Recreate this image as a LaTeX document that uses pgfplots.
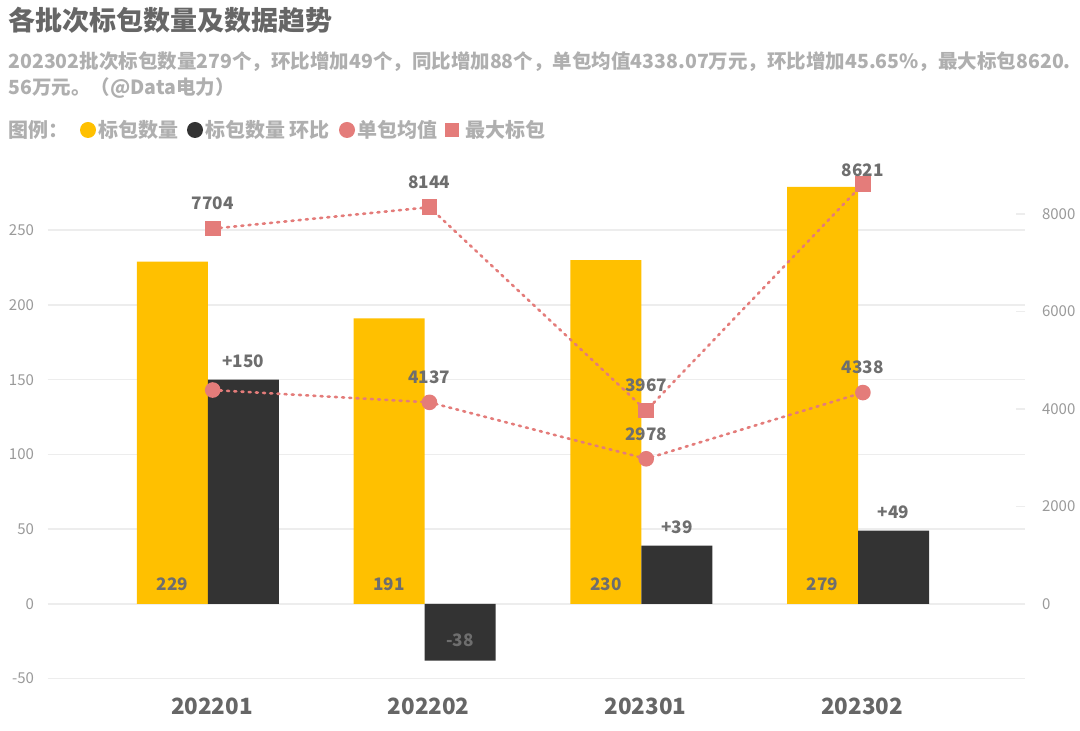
\documentclass[border=0pt]{standalone}
\usepackage{fontspec}
\setmainfont{Noto Sans CJK SC}
\usepackage{pgfplots}
\pgfplotsset{compat=1.18}
\definecolor{ybarc}{HTML}{FFC000}
\definecolor{dbarc}{HTML}{333333}
\definecolor{sal}{HTML}{E47C7A}
\definecolor{ttl}{HTML}{666666}
\definecolor{subc}{HTML}{AFAFAF}
\definecolor{lab}{HTML}{6E6E6E}
\definecolor{tickc}{HTML}{9A9A9A}
\definecolor{grd}{HTML}{EDEDED}
\begin{document}
\begin{tikzpicture}[x=0.5pt,y=0.5pt]
\path[use as bounding box, fill=white] (0,0) rectangle (1080,731);
\node[anchor=west, text=ttl, font=\bfseries\fontsize{13.5}{14}\selectfont, inner sep=0] at (8,711) {各批次标包数量及数据趋势};
\node[anchor=west, text=subc, font=\bfseries\fontsize{9.75}{10}\selectfont, inner sep=0] at (8,669) {202302批次标包数量279个，环比增加49个，同比增加88个，单包均值4338.07万元，环比增加45.65\%，最大标包8620.};
\node[anchor=west, text=subc, font=\bfseries\fontsize{9.75}{10}\selectfont, inner sep=0] at (8,643) {56万元。（@Data电力）};
\begin{scope}[every node/.style={anchor=west, text=subc, font=\bfseries\fontsize{10}{10}\selectfont, inner sep=0}]
\node at (8,601) {图例：};
\fill[ybarc] (88,601) circle (8);
\node at (98,601) {标包数量};
\fill[dbarc] (195,601) circle (8);
\node at (205,601) {标包数量 环比};
\fill[sal] (347,601) circle (8);
\node at (357,601) {单包均值};
\fill[sal] (445,594) rectangle (459,608);
\node at (465,601) {最大标包};
\end{scope}

\begin{axis}[at={(24pt,22.5pt)}, anchor=south west, scale only axis,
  width=488.5pt, height=263pt,
  xmin=-0.738, xmax=3.77, ymin=-55, ymax=297,
  axis line style={draw=none},
  ytick={-50,0,50,100,150,200,250},
  ymajorgrids, grid style={grd, line width=0.75pt},
  major tick length=0pt,
  xtick={0,1,2,3}, xticklabels={202201,202202,202301,202302},
  xticklabel style={font=\bfseries\fontsize{11.2}{11.2}\selectfont, text=ttl, anchor=center, yshift=-10pt, xshift=2pt},
  yticklabel style={font=\fontsize{7.5}{7.5}\selectfont, text=tickc, xshift=-3.5pt},
  /pgf/number format/assume math mode=true,
  clip=false]
\addplot[ybar, bar width=0.3277, bar shift=-0.1638, fill=ybarc, draw=none] coordinates {(0,229)(1,191)(2,230)(3,279)};
\addplot[ybar, bar width=0.3277, bar shift=0.1638, fill=dbarc, draw=none] coordinates {(0,150)(1,-38)(2,39)(3,49)};
\addplot[draw=none, nodes near coords, point meta=explicit symbolic, nodes near coords align=center,
  every node near coord/.append style={font=\bfseries\fontsize{8.6}{8.6}\selectfont, text=lab, anchor=center}]
  coordinates {(-0.1638,13.4)[229] (0.8362,13.4)[191] (1.8362,13.4)[230] (2.8362,13.4)[279]
               (0.1638,162.4)[+150] (1.1638,-24.7)[-38] (2.1638,51.5)[+39] (3.1638,61.5)[+49]};
\end{axis}

\begin{axis}[at={(24pt,22.5pt)}, anchor=south west, scale only axis,
  width=488.5pt, height=263pt,
  xmin=-0.738, xmax=3.77, ymin=-1688, ymax=9114,
  axis y line*=right, axis x line=none,
  axis line style={draw=none},
  ytick={0,2000,4000,6000,8000},
  tick style={draw=grd, line width=0.75pt},
  major tick length=4.5pt, tick align=inside,
  yticklabel style={font=\fontsize{7.5}{7.5}\selectfont, text=tickc, xshift=5pt},
  /pgf/number format/1000 sep={},
  /pgf/number format/assume math mode=true,
  clip=false]
\addplot[sal, line width=1.3pt, line cap=round, dash pattern=on 1pt off 2.6pt, mark=square*, mark size=3.25pt, mark options={solid, fill=sal, draw=none}]
  coordinates {(0.022,7704)(1.022,8144)(2.022,3967)(3.022,8621)};
\addplot[sal, line width=1.3pt, line cap=round, dash pattern=on 1pt off 2.6pt, mark=*, mark size=3.25pt, mark options={solid, fill=sal, draw=none}]
  coordinates {(0.022,4390)(1.022,4137)(2.022,2978)(3.022,4338)};
\addplot[draw=none, nodes near coords, point meta=explicit symbolic, nodes near coords align=center,
  every node near coord/.append style={font=\bfseries\fontsize{8.6}{8.6}\selectfont, text=lab, anchor=center}]
  coordinates {(0.022,8217)[7704] (1.022,8657)[8144] (2.022,4480)[3967] (3.022,8908)[8621]
               (1.022,4650)[4137] (2.022,3491)[2978] (3.022,4851)[4338]};
\end{axis}
\end{tikzpicture}
\end{document}
